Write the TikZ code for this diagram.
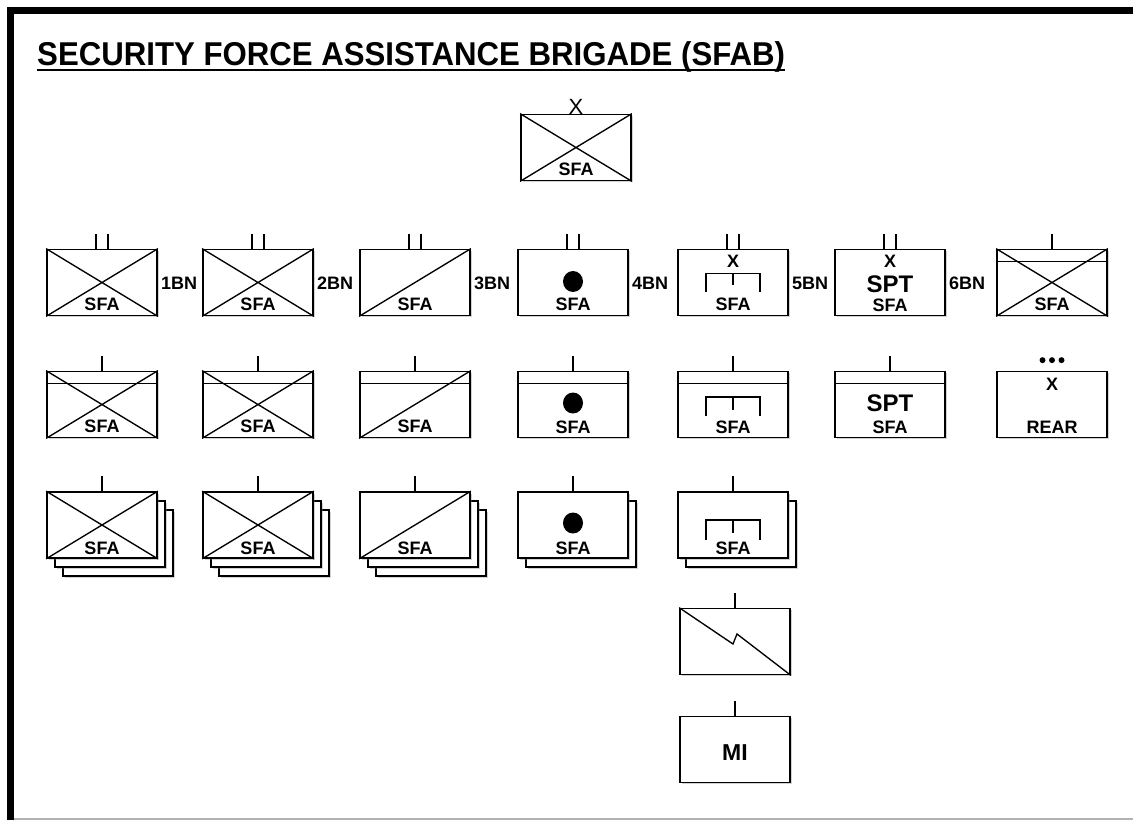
\documentclass[tikz,border=0pt]{standalone}
\usepackage{fontspec}
\setmainfont{Liberation Sans}
\usetikzlibrary{shadows}
\newcommand\ucross[1]{\draw[sym] (#1.north west) -- (#1.south east) (#1.south west) -- (#1.north east);}
\newcommand\udiag[1]{\draw[sym] (#1.south west) -- (#1.north east);}
\newcommand\ucoline[1]{\draw[sym] ([shift={(0,13)}]#1.north west) -- ([shift={(0,13)}]#1.north east);}
\newcommand\utwobar[1]{\draw[bar] ([shift={(-6,0)}]#1.north) -- ++(0,-15) ([shift={(6,0)}]#1.north) -- ++(0,-15);}
\newcommand\uonebar[1]{\draw[bar] (#1.north) -- ++(0,-15);}
\newcommand\udot[2]{\fill ([shift={(0,#2)}]#1.center) circle[x radius=10pt, y radius=10.5pt];}
\newcommand\ubrkt[4]{\draw[brk] ([shift={(-27,#4)}]#1.center) -- ([shift={(-27,#2)}]#1.center) -- ([shift={(27,#2)}]#1.center) -- ([shift={(27,#4)}]#1.center); \draw[brk] ([shift={(0,#2)}]#1.center) -- ([shift={(0,#3)}]#1.center);}
\begin{document}
\begin{tikzpicture}[x=1pt,y=-1pt,
  unit/.style={draw, line width=1.7pt, fill=white, minimum width=110pt, minimum height=66pt, inner sep=0pt,
    drop shadow={shadow xshift=1.5pt, shadow yshift=-1.5pt, opacity=0.35}},
  sym/.style={line width=1.35pt},
  brk/.style={line width=1.9pt},
  bar/.style={line width=2pt},
  lbl/.style={font=\fontsize{18}{18}\selectfont\bfseries, inner sep=0pt},
  big/.style={font=\fontsize{24}{24}\selectfont\bfseries, inner sep=0pt},
  bn/.style={font=\fontsize{18}{18}\selectfont\bfseries, inner sep=0pt, anchor=west},
]
\useasboundingbox (0,0) rectangle (1133,820);
\fill[white] (0,0) rectangle (1133,820);
% frame
\draw[gray!60, line width=2pt] (14,818.5) -- (1133,818.5);
\draw[line width=7pt] (10.5,820) -- (10.5,10.5) -- (1140,10.5);
% title
\node[anchor=base west, inner sep=0pt, font=\fontsize{33}{33}\selectfont\bfseries] (title) at (37,65) {\scalebox{0.945}[1]{SECURITY FORCE ASSISTANCE BRIGADE (SFAB)}};
\draw[line width=2.2pt] ([yshift=-5pt]title.base west) -- ([yshift=-5pt]title.base east);

% brigade
\node[unit] (brig) at (576,147.5) {};
\ucross{brig}
\node[anchor=south, inner sep=0pt, font=\fontsize{22}{22}\selectfont] (brigx) at ([yshift=-1pt]brig.north) {X};
\node[lbl] (brigl) at ([shift={(0,22)}]brig.center) {SFA};

% row 1
\node[unit] (b1) at (102,282.5) {}; \ucross{b1} \utwobar{b1}
\node[lbl] (b1l) at ([shift={(0,22)}]b1.center) {SFA};
\node[bn] (b1n) at ([shift={(3,1)}]b1.east) {1BN};
\node[unit] (b2) at (258,282.5) {}; \ucross{b2} \utwobar{b2}
\node[lbl] (b2l) at ([shift={(0,22)}]b2.center) {SFA};
\node[bn] (b2n) at ([shift={(3,1)}]b2.east) {2BN};
\node[unit] (b3) at (415,282.5) {}; \udiag{b3} \utwobar{b3}
\node[lbl] (b3l) at ([shift={(0,22)}]b3.center) {SFA};
\node[bn] (b3n) at ([shift={(3,1)}]b3.east) {3BN};
\node[unit] (b4) at (573,282.5) {}; \udot{b4}{-1} \utwobar{b4}
\node[lbl] (b4l) at ([shift={(0,22)}]b4.center) {SFA};
\node[bn] (b4n) at ([shift={(3,1)}]b4.east) {4BN};
\node[unit] (b5) at (733,282.5) {}; \ubrkt{b5}{-9}{2.5}{9.5} \utwobar{b5}
\node[lbl] (b5x) at ([shift={(0,-21)}]b5.center) {X};
\node[lbl] (b5l) at ([shift={(0,22)}]b5.center) {SFA};
\node[bn] (b5n) at ([shift={(3,1)}]b5.east) {5BN};
\node[unit] (b6) at (890,282.5) {}; \utwobar{b6}
\node[lbl] (b6x) at ([shift={(0,-21)}]b6.center) {X};
\node[big] (b6s) at ([shift={(0,2)}]b6.center) {SPT};
\node[lbl] (b6l) at ([shift={(0,22.5)}]b6.center) {SFA};
\node[bn] (b6n) at ([shift={(3,1)}]b6.east) {6BN};
\node[unit] (b7) at (1052,282.5) {}; \ucoline{b7} \ucross{b7} \uonebar{b7}
\node[lbl] (b7l) at ([shift={(0,22)}]b7.center) {SFA};

% row 2
\node[unit] (r1) at (102,404.5) {}; \ucoline{r1} \ucross{r1} \uonebar{r1}
\node[lbl] (r1l) at ([shift={(0,22)}]r1.center) {SFA};
\node[unit] (r2) at (258,404.5) {}; \ucoline{r2} \ucross{r2} \uonebar{r2}
\node[lbl] (r2l) at ([shift={(0,22)}]r2.center) {SFA};
\node[unit] (r3) at (415,404.5) {}; \ucoline{r3} \udiag{r3} \uonebar{r3}
\node[lbl] (r3l) at ([shift={(0,22)}]r3.center) {SFA};
\node[unit] (r4) at (573,404.5) {}; \ucoline{r4} \udot{r4}{-1.5} \uonebar{r4}
\node[lbl] (r4l) at ([shift={(0,22.5)}]r4.center) {SFA};
\node[unit] (r5) at (733,404.5) {}; \ucoline{r5} \ubrkt{r5}{-7.5}{5.5}{11.5} \uonebar{r5}
\node[lbl] (r5l) at ([shift={(0,22.5)}]r5.center) {SFA};
\node[unit] (r6) at (890,404.5) {}; \ucoline{r6} \uonebar{r6}
\node[big] (r6s) at ([shift={(0,-1.5)}]r6.center) {SPT};
\node[lbl] (r6l) at ([shift={(0,22.5)}]r6.center) {SFA};
\node[unit] (r7) at (1052,404.5) {};
\foreach \dx in {-9.5,0,9.5} \fill ([shift={(\dx,-10.5)}]r7.north) circle[radius=3pt];
\node[lbl] (r7x) at ([shift={(0,-20.5)}]r7.center) {X};
\node[lbl] (r7l) at ([shift={(0,22.5)}]r7.center) {REAR};

% row 3
\node[unit] (s1c) at (118,543) {};
\node[unit] (s1b) at (110,534) {};
\node[unit] (s1) at (102,525) {}; \ucross{s1} \uonebar{s1}
\node[lbl] (s1l) at ([shift={(0,23)}]s1.center) {SFA};
\node[unit] (s2c) at (274,543) {};
\node[unit] (s2b) at (266,534) {};
\node[unit] (s2) at (258,525) {}; \ucross{s2} \uonebar{s2}
\node[lbl] (s2l) at ([shift={(0,23)}]s2.center) {SFA};
\node[unit] (s3c) at (431,543) {};
\node[unit] (s3b) at (423,534) {};
\node[unit] (s3) at (415,525) {}; \udiag{s3} \uonebar{s3}
\node[lbl] (s3l) at ([shift={(0,23)}]s3.center) {SFA};
\node[unit] (s4b) at (581,534) {};
\node[unit] (s4) at (573,525) {}; \udot{s4}{-2} \uonebar{s4}
\node[lbl] (s4l) at ([shift={(0,23)}]s4.center) {SFA};
\node[unit] (s5b) at (741,534) {};
\node[unit] (s5) at (733,525) {}; \ubrkt{s5}{-5}{8}{15} \uonebar{s5}
\node[lbl] (s5l) at ([shift={(0,23.5)}]s5.center) {SFA};

% row 4: signal
\node[unit] (sig) at (735,641.5) {}; \uonebar{sig}
\draw[sym] (sig.north west) -- ([shift={(-2,2.5)}]sig.center) -- ([shift={(2,-7.5)}]sig.center) -- (sig.south east);

% row 5: MI
\node[unit] (mi) at (735,749.5) {}; \uonebar{mi}
\node[big, font=\fontsize{23}{23}\selectfont\bfseries] (mil) at ([shift={(0,3)}]mi.center) {MI};
\end{tikzpicture}
\end{document}
